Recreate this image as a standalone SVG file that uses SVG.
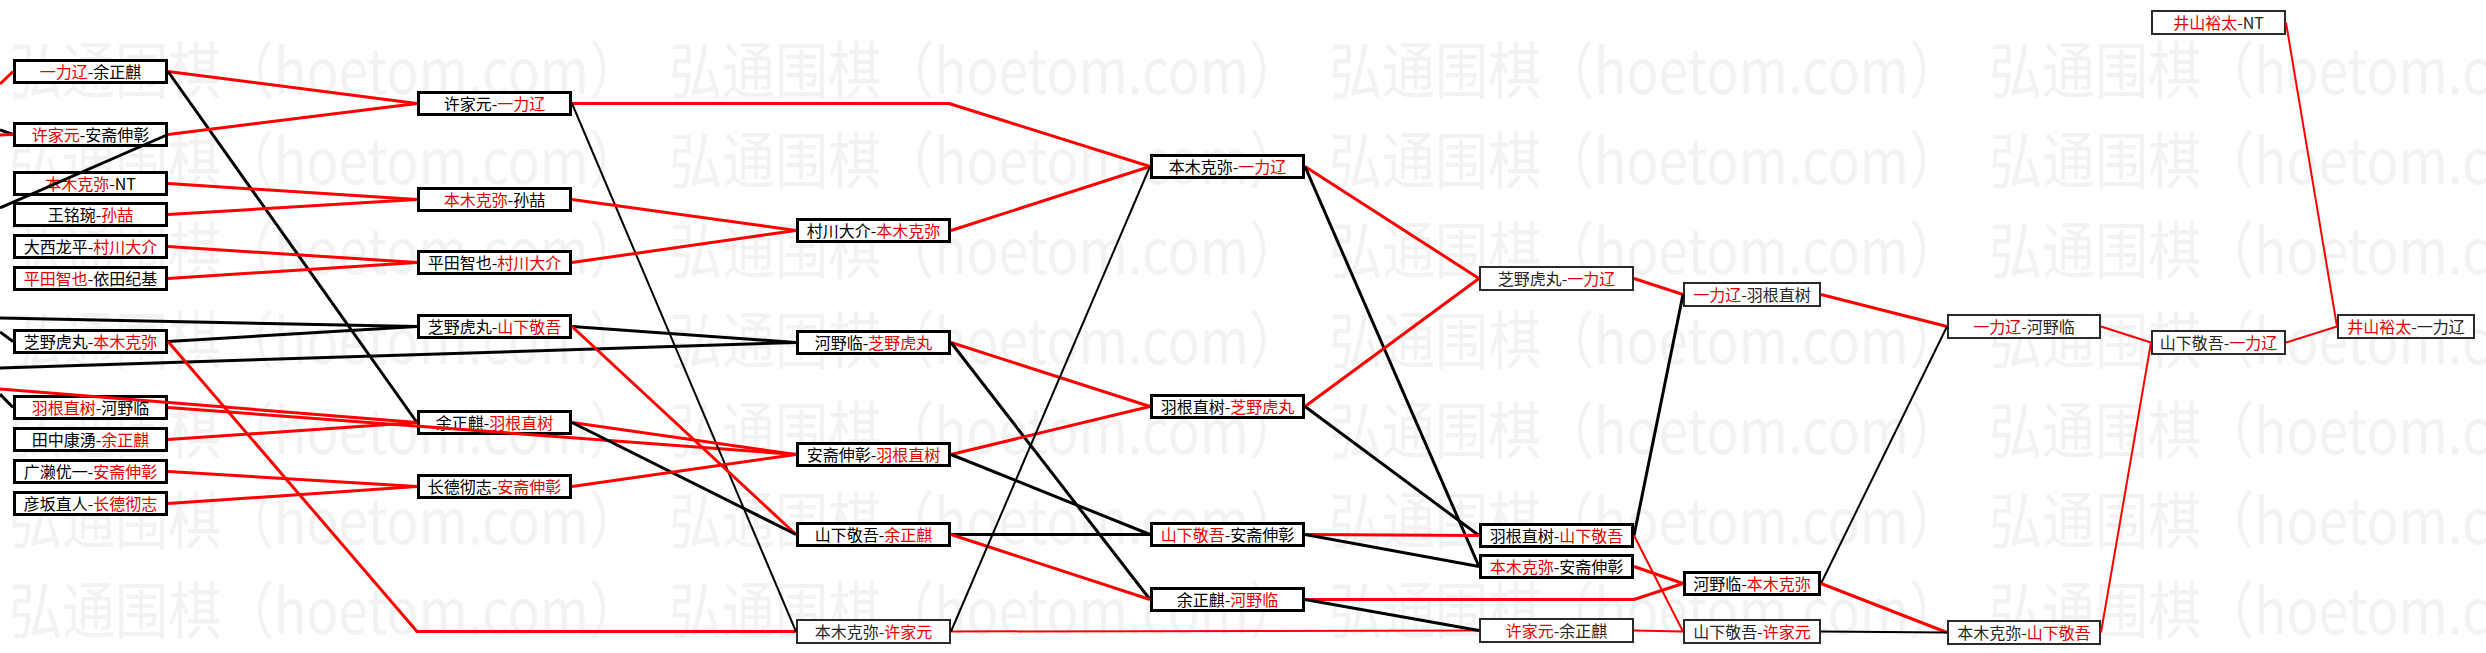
<svg xmlns="http://www.w3.org/2000/svg" width="2486" height="653" viewBox="0 0 2486 653">
<style>
.wm{font-family:"Noto Sans CJK SC","Noto Sans",sans-serif;font-size:62px;fill:#f2f2f2}
.bx{fill:#fff;stroke:#000;stroke-width:3}
.bt{fill:#fff;stroke:#2a2a2a;stroke-width:2}
.tx{font-family:"Noto Sans CJK SC","Noto Sans",sans-serif;font-size:16px;text-anchor:middle;fill:#000}
.tt{fill:#262626}
.r{fill:#e60000}
.lr{stroke:#f00;fill:none;stroke-width:3;stroke-linejoin:round}
.lb{stroke:#000;fill:none;stroke-width:3;stroke-linejoin:round}
.w2{stroke-width:2}
</style>
<rect width="2486" height="653" fill="#fff"/>
<g id="watermark">
<text class="wm" x="9" y="94" textLength="633" lengthAdjust="spacingAndGlyphs">弘通围棋（hoetom.com）</text>
<text class="wm" x="669" y="94" textLength="633" lengthAdjust="spacingAndGlyphs">弘通围棋（hoetom.com）</text>
<text class="wm" x="1329" y="94" textLength="633" lengthAdjust="spacingAndGlyphs">弘通围棋（hoetom.com）</text>
<text class="wm" x="1989" y="94" textLength="633" lengthAdjust="spacingAndGlyphs">弘通围棋（hoetom.com）</text>
<text class="wm" x="9" y="184" textLength="633" lengthAdjust="spacingAndGlyphs">弘通围棋（hoetom.com）</text>
<text class="wm" x="669" y="184" textLength="633" lengthAdjust="spacingAndGlyphs">弘通围棋（hoetom.com）</text>
<text class="wm" x="1329" y="184" textLength="633" lengthAdjust="spacingAndGlyphs">弘通围棋（hoetom.com）</text>
<text class="wm" x="1989" y="184" textLength="633" lengthAdjust="spacingAndGlyphs">弘通围棋（hoetom.com）</text>
<text class="wm" x="9" y="274" textLength="633" lengthAdjust="spacingAndGlyphs">弘通围棋（hoetom.com）</text>
<text class="wm" x="669" y="274" textLength="633" lengthAdjust="spacingAndGlyphs">弘通围棋（hoetom.com）</text>
<text class="wm" x="1329" y="274" textLength="633" lengthAdjust="spacingAndGlyphs">弘通围棋（hoetom.com）</text>
<text class="wm" x="1989" y="274" textLength="633" lengthAdjust="spacingAndGlyphs">弘通围棋（hoetom.com）</text>
<text class="wm" x="9" y="364" textLength="633" lengthAdjust="spacingAndGlyphs">弘通围棋（hoetom.com）</text>
<text class="wm" x="669" y="364" textLength="633" lengthAdjust="spacingAndGlyphs">弘通围棋（hoetom.com）</text>
<text class="wm" x="1329" y="364" textLength="633" lengthAdjust="spacingAndGlyphs">弘通围棋（hoetom.com）</text>
<text class="wm" x="1989" y="364" textLength="633" lengthAdjust="spacingAndGlyphs">弘通围棋（hoetom.com）</text>
<text class="wm" x="9" y="454" textLength="633" lengthAdjust="spacingAndGlyphs">弘通围棋（hoetom.com）</text>
<text class="wm" x="669" y="454" textLength="633" lengthAdjust="spacingAndGlyphs">弘通围棋（hoetom.com）</text>
<text class="wm" x="1329" y="454" textLength="633" lengthAdjust="spacingAndGlyphs">弘通围棋（hoetom.com）</text>
<text class="wm" x="1989" y="454" textLength="633" lengthAdjust="spacingAndGlyphs">弘通围棋（hoetom.com）</text>
<text class="wm" x="9" y="544" textLength="633" lengthAdjust="spacingAndGlyphs">弘通围棋（hoetom.com）</text>
<text class="wm" x="669" y="544" textLength="633" lengthAdjust="spacingAndGlyphs">弘通围棋（hoetom.com）</text>
<text class="wm" x="1329" y="544" textLength="633" lengthAdjust="spacingAndGlyphs">弘通围棋（hoetom.com）</text>
<text class="wm" x="1989" y="544" textLength="633" lengthAdjust="spacingAndGlyphs">弘通围棋（hoetom.com）</text>
<text class="wm" x="9" y="634" textLength="633" lengthAdjust="spacingAndGlyphs">弘通围棋（hoetom.com）</text>
<text class="wm" x="669" y="634" textLength="633" lengthAdjust="spacingAndGlyphs">弘通围棋（hoetom.com）</text>
<text class="wm" x="1329" y="634" textLength="633" lengthAdjust="spacingAndGlyphs">弘通围棋（hoetom.com）</text>
<text class="wm" x="1989" y="634" textLength="633" lengthAdjust="spacingAndGlyphs">弘通围棋（hoetom.com）</text>
</g>

<g id="A1"><rect class="bx" x="14.5" y="60.5" width="152" height="22"/><text class="tx" x="90.5" y="77.5"><tspan class="r">一力辽</tspan>-余正麒</text></g>
<g id="A2"><rect class="bx" x="14.5" y="123.5" width="152" height="22"/><text class="tx" x="90.5" y="140.5"><tspan class="r">许家元</tspan>-安斋伸彰</text></g>
<g id="A3"><rect class="bx" x="14.5" y="172.5" width="152" height="22"/><text class="tx" x="90.5" y="189.5"><tspan class="r">本木克弥</tspan>-NT</text></g>
<g id="A4"><rect class="bx" x="14.5" y="203.5" width="152" height="22"/><text class="tx" x="90.5" y="220.5">王铭琬-<tspan class="r">孙喆</tspan></text></g>
<g id="A5"><rect class="bx" x="14.5" y="235.5" width="152" height="22"/><text class="tx" x="90.5" y="252.5">大西龙平-<tspan class="r">村川大介</tspan></text></g>
<g id="A6"><rect class="bx" x="14.5" y="267.5" width="152" height="22"/><text class="tx" x="90.5" y="284.5"><tspan class="r">平田智也</tspan>-依田纪基</text></g>
<g id="A7"><rect class="bx" x="14.5" y="330.5" width="152" height="22"/><text class="tx" x="90.5" y="347.5">芝野虎丸-<tspan class="r">本木克弥</tspan></text></g>
<g id="A8"><rect class="bx" x="14.5" y="396.5" width="152" height="22"/><text class="tx" x="90.5" y="413.5"><tspan class="r">羽根直树</tspan>-河野临</text></g>
<g id="A9"><rect class="bx" x="14.5" y="428.5" width="152" height="22"/><text class="tx" x="90.5" y="445.5">田中康湧-<tspan class="r">余正麒</tspan></text></g>
<g id="A10"><rect class="bx" x="14.5" y="460.5" width="152" height="22"/><text class="tx" x="90.5" y="477.5">广濑优一-<tspan class="r">安斋伸彰</tspan></text></g>
<g id="A11"><rect class="bx" x="14.5" y="492.5" width="152" height="22"/><text class="tx" x="90.5" y="509.5">彦坂直人-<tspan class="r">长德彻志</tspan></text></g>

<g id="B1"><rect class="bx" x="418.5" y="92.5" width="152" height="22"/><text class="tx" x="494.5" y="109.5">许家元-<tspan class="r">一力辽</tspan></text></g>
<g id="B2"><rect class="bx" x="418.5" y="188.5" width="152" height="22"/><text class="tx" x="494.5" y="205.5"><tspan class="r">本木克弥</tspan>-孙喆</text></g>
<g id="B3"><rect class="bx" x="418.5" y="251.5" width="152" height="22"/><text class="tx" x="494.5" y="268.5">平田智也-<tspan class="r">村川大介</tspan></text></g>
<g id="B4"><rect class="bx" x="418.5" y="315.5" width="152" height="22"/><text class="tx" x="494.5" y="332.5">芝野虎丸-<tspan class="r">山下敬吾</tspan></text></g>
<g id="B5"><rect class="bx" x="418.5" y="411.5" width="152" height="22"/><text class="tx" x="494.5" y="428.5">余正麒-<tspan class="r">羽根直树</tspan></text></g>
<g id="B6"><rect class="bx" x="418.5" y="475.5" width="152" height="22"/><text class="tx" x="494.5" y="492.5">长德彻志-<tspan class="r">安斋伸彰</tspan></text></g>

<g id="C1"><rect class="bx" x="797.5" y="219.5" width="152" height="22"/><text class="tx" x="873.5" y="236.5">村川大介-<tspan class="r">本木克弥</tspan></text></g>
<g id="C2"><rect class="bx" x="797.5" y="331.5" width="152" height="22"/><text class="tx" x="873.5" y="348.5">河野临-<tspan class="r">芝野虎丸</tspan></text></g>
<g id="C3"><rect class="bx" x="797.5" y="443.5" width="152" height="22"/><text class="tx" x="873.5" y="460.5">安斋伸彰-<tspan class="r">羽根直树</tspan></text></g>
<g id="C4"><rect class="bx" x="797.5" y="523.5" width="152" height="22"/><text class="tx" x="873.5" y="540.5">山下敬吾-<tspan class="r">余正麒</tspan></text></g>
<g id="C5"><rect class="bt" x="797" y="620" width="153" height="23"/><text class="tx tt" x="873.5" y="637.5">本木克弥-<tspan class="r">许家元</tspan></text></g>

<g id="D1"><rect class="bx" x="1151.5" y="155.5" width="152" height="22"/><text class="tx" x="1227.5" y="172.5">本木克弥-<tspan class="r">一力辽</tspan></text></g>
<g id="D2"><rect class="bx" x="1151.5" y="395.5" width="152" height="22"/><text class="tx" x="1227.5" y="412.5">羽根直树-<tspan class="r">芝野虎丸</tspan></text></g>
<g id="D3"><rect class="bx" x="1151.5" y="523.5" width="152" height="22"/><text class="tx" x="1227.5" y="540.5"><tspan class="r">山下敬吾</tspan>-安斋伸彰</text></g>
<g id="D4"><rect class="bx" x="1151.5" y="588.5" width="152" height="22"/><text class="tx" x="1227.5" y="605.5">余正麒-<tspan class="r">河野临</tspan></text></g>

<g id="E1"><rect class="bt" x="1480" y="267" width="153" height="23"/><text class="tx tt" x="1556.5" y="284.5">芝野虎丸-<tspan class="r">一力辽</tspan></text></g>
<g id="E2"><rect class="bx" x="1480.5" y="524.5" width="152" height="22"/><text class="tx" x="1556.5" y="541.5">羽根直树-<tspan class="r">山下敬吾</tspan></text></g>
<g id="E3"><rect class="bx" x="1480.5" y="555.5" width="152" height="22"/><text class="tx" x="1556.5" y="572.5"><tspan class="r">本木克弥</tspan>-安斋伸彰</text></g>
<g id="E4"><rect class="bt" x="1480" y="619" width="153" height="23"/><text class="tx tt" x="1556.5" y="636.5"><tspan class="r">许家元</tspan>-余正麒</text></g>

<g id="F1"><rect class="bt" x="1684" y="283" width="136" height="23"/><text class="tx tt" x="1752" y="300.5"><tspan class="r">一力辽</tspan>-羽根直树</text></g>
<g id="F2"><rect class="bx" x="1684.5" y="572.5" width="135" height="22"/><text class="tx" x="1752" y="589.5">河野临-<tspan class="r">本木克弥</tspan></text></g>
<g id="F3"><rect class="bt" x="1684" y="620" width="136" height="23"/><text class="tx tt" x="1752" y="637.5">山下敬吾-<tspan class="r">许家元</tspan></text></g>

<g id="G1"><rect class="bt" x="1948" y="315" width="152" height="23"/><text class="tx tt" x="2024" y="332.5"><tspan class="r">一力辽</tspan>-河野临</text></g>
<g id="G2"><rect class="bt" x="1948" y="621" width="152" height="23"/><text class="tx tt" x="2024" y="638.5">本木克弥-<tspan class="r">山下敬吾</tspan></text></g>

<g id="H1"><rect class="bt" x="2152" y="11" width="133" height="23"/><text class="tx tt" x="2218.5" y="28.5"><tspan class="r">井山裕太</tspan>-NT</text></g>
<g id="H2"><rect class="bt" x="2152" y="331" width="133" height="23"/><text class="tx tt" x="2218.5" y="348.5">山下敬吾-<tspan class="r">一力辽</tspan></text></g>

<g id="I1"><rect class="bt" x="2338" y="315" width="136" height="23"/><text class="tx tt" x="2406" y="332.5"><tspan class="r">井山裕太</tspan>-一力辽</text></g>

<g id="connectors">
<path class="lr" d="M0,84 L13,71.5"/>
<path class="lb" d="M0,130 L13,134.5"/>
<path class="lr" d="M0,135 L13,134.5"/>
<path class="lb" d="M168,134.5 L0,208"/>
<path class="lb" d="M0,318 L417,326.5"/>
<path class="lb" d="M0,332 L13,341.5"/>
<path class="lb" d="M0,368 L796,342.5"/>
<path class="lr" d="M0,389 L417,422.5"/>
<path class="lb" d="M0,394 L13,407.5"/>

<path class="lr" d="M168,71.5 L417,103.5"/>
<path class="lb" d="M168,71.5 L417,422.5"/>
<path class="lr" d="M168,134.5 L417,103.5"/>
<path class="lr" d="M168,183.5 L417,199.5"/>
<path class="lr" d="M168,214.5 L417,199.5"/>
<path class="lr" d="M168,246.5 L417,262.5"/>
<path class="lr" d="M168,278.5 L417,262.5"/>
<path class="lb" d="M168,341.5 L417,326.5"/>
<path class="lr" d="M168,341.5 L417,631.5 L796,631.5"/>
<path class="lr" d="M168,407.5 L796,454.5"/>
<path class="lr" d="M168,439.5 L417,422.5"/>
<path class="lr" d="M168,471.5 L417,486.5"/>
<path class="lr" d="M168,503.5 L417,486.5"/>

<path class="lr" d="M572,103.5 L949,103.5 L1150,166.5"/>
<path class="lb w2" d="M572,103.5 L796,631.5"/>
<path class="lr" d="M572,199.5 L796,230.5"/>
<path class="lr" d="M572,262.5 L796,230.5"/>
<path class="lb" d="M572,326.5 L796,342.5"/>
<path class="lr" d="M572,326.5 L796,534.5"/>
<path class="lr" d="M572,422.5 L796,454.5"/>
<path class="lb" d="M572,422.5 L796,534.5"/>
<path class="lr" d="M572,486.5 L796,454.5"/>

<path class="lr" d="M951,230.5 L1150,166.5"/>
<path class="lr" d="M951,342.5 L1150,406.5"/>
<path class="lb" d="M951,342.5 L1150,599.5"/>
<path class="lr" d="M951,454.5 L1150,406.5"/>
<path class="lb" d="M951,454.5 L1150,534.5"/>
<path class="lb" d="M951,534.5 L1150,534.5"/>
<path class="lr" d="M951,534.5 L1150,599.5"/>
<path class="lr w2" d="M951,631.5 L1479,630.5"/>
<path class="lb w2" d="M951,631.5 L1150,166.5"/>

<path class="lr" d="M1305,166.5 L1479,278.5"/>
<path class="lb" d="M1305,166.5 L1479,566.5"/>
<path class="lr" d="M1305,406.5 L1479,278.5"/>
<path class="lb" d="M1305,406.5 L1479,535.5"/>
<path class="lr" d="M1305,534.5 L1479,535.5"/>
<path class="lb" d="M1305,534.5 L1479,566.5"/>
<path class="lr" d="M1305,599.5 L1634,599.5 L1683,583.5"/>
<path class="lb" d="M1305,599.5 L1479,630.5"/>

<path class="lr" d="M1634,278.5 L1683,294.5"/>
<path class="lb" d="M1634,535.5 L1683,294.5"/>
<path class="lr w2" d="M1634,535.5 L1683,631.5"/>
<path class="lr" d="M1634,566.5 L1683,583.5"/>
<path class="lr w2" d="M1634,630.5 L1683,631.5"/>

<path class="lr" d="M1821,294.5 L1947,326.5"/>
<path class="lb w2" d="M1821,583.5 L1947,326.5"/>
<path class="lr" d="M1821,583.5 L1947,632.5"/>
<path class="lb w2" d="M1821,631.5 L1947,632.5"/>

<path class="lr w2" d="M2101,326.5 L2151,342.5"/>
<path class="lr w2" d="M2101,632.5 L2151,342.5"/>

<path class="lr w2" d="M2286,22.5 L2337,326.5"/>
<path class="lr w2" d="M2286,342.5 L2337,326.5"/>
</g>
</svg>
